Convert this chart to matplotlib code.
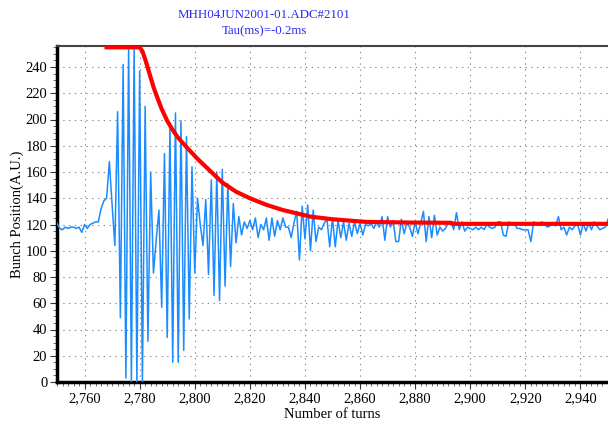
import numpy as np
import matplotlib.pyplot as plt
from matplotlib.ticker import MultipleLocator, FuncFormatter

plt.rcParams['font.family'] = ['Liberation Serif', 'DejaVu Serif']

# bunch position per turn, turns 2750..2950
turn_start = 2750
position = [
    121, 117, 116, 118, 117, 118, 118, 117, 118, 114,
    120, 117, 120, 121, 122, 122, 132, 138, 140, 168,
    135, 104, 206, 49, 242, 3, 255, 0, 255, 0,
    237, 0, 210, 31, 160, 83, 108, 131, 57, 174,
    34, 194, 15, 205, 15, 199, 24, 187, 48, 164,
    83, 140, 120, 104, 139, 82, 154, 66, 160, 62,
    162, 73, 151, 88, 136, 106, 126, 112, 122, 117,
    123, 116, 125, 110, 120, 116, 125, 108, 125, 111,
    123, 116, 125, 118, 118, 110, 121, 130, 93, 134,
    109, 135, 100, 131, 107, 118, 116, 121, 124, 103,
    125, 103, 123, 110, 122, 108, 121, 111, 122, 113,
    121, 112, 120, 119, 121, 117, 122, 118, 126, 108,
    126, 118, 123, 107, 107, 124, 113, 121, 118, 111,
    122, 113, 121, 130, 107, 126, 110, 127, 112, 118,
    115, 117, 121, 122, 116, 129, 116, 122, 115, 118,
    117, 116, 118, 116, 118, 116, 120, 118, 117, 118,
    122, 122, 112, 111, 122, 120, 121, 117, 117, 116,
    116, 116, 107, 122, 121, 121, 122, 120, 118, 119,
    120, 119, 126, 116, 118, 112, 118, 116, 119, 120,
    112, 121, 115, 121, 116, 122, 119, 116, 117, 118,
    124,
]
turns = np.arange(turn_start, turn_start + len(position))

# envelope fit
env_turns = [2768, 2780, 2781, 2782, 2783, 2784, 2785, 2786, 2788, 2790,
             2792, 2794, 2797, 2801, 2806, 2810, 2815, 2820, 2826, 2832,
             2838, 2842, 2850, 2862, 2878, 2893, 2894, 2950]
env_vals = [255, 255, 252, 246, 239, 232, 225, 219, 208, 199,
            192, 186, 179, 170, 160, 152, 145, 140, 135, 131,
            128, 126, 124, 122, 121.5, 121.3, 120.5, 120.5]

fig = plt.figure(figsize=(6.08, 4.22), dpi=100)
ax = fig.add_axes([57 / 608, 40 / 422, 551 / 608, 336 / 422])

ax.plot(turns, position, color='#1a8cff', linewidth=1.1, zorder=3)
ax.plot(env_turns, env_vals, color='#ff0000', linewidth=3.0, zorder=4,
        solid_joinstyle='round')

ax.set_xlim(2750, 2950)
ax.set_ylim(0, 256)
ax.xaxis.set_major_locator(MultipleLocator(20))
ax.xaxis.set_minor_locator(MultipleLocator(2))
ax.yaxis.set_major_locator(MultipleLocator(20))
ax.yaxis.set_minor_locator(MultipleLocator(5))
ax.xaxis.set_major_formatter(FuncFormatter(lambda v, p: f'{int(v):,}'))

ax.grid(True, which='major', color='#888888', linestyle=(0, (1.2, 4)), linewidth=0.8)
ax.tick_params(which='major', length=5, width=0.8, labelsize=10.5, colors='#333333',
               labelcolor='black', pad=2)
ax.tick_params(which='minor', length=3, width=0.6, colors='#555555')

ax.spines['left'].set_linewidth(2.5)
ax.spines['bottom'].set_linewidth(2.5)
ax.spines['top'].set_linewidth(1.5)
ax.spines['top'].set_color('#444444')
ax.spines['right'].set_visible(False)

ax.set_xlabel('Number of turns', fontsize=10.5, labelpad=2)
ax.set_ylabel('Bunch Position(A.U.)', fontsize=10.5, labelpad=1)

fig.text(264 / 608, 1 - 15 / 422, 'MHH04JUN2001-01.ADC#2101', color='#2a2aee',
         fontsize=9.3, ha='center', va='center')
fig.text(264 / 608, 1 - 31 / 422, 'Tau(ms)=-0.2ms', color='#2a2aee',
         fontsize=9.3, ha='center', va='center')

fig.savefig('out.png', dpi=100)
